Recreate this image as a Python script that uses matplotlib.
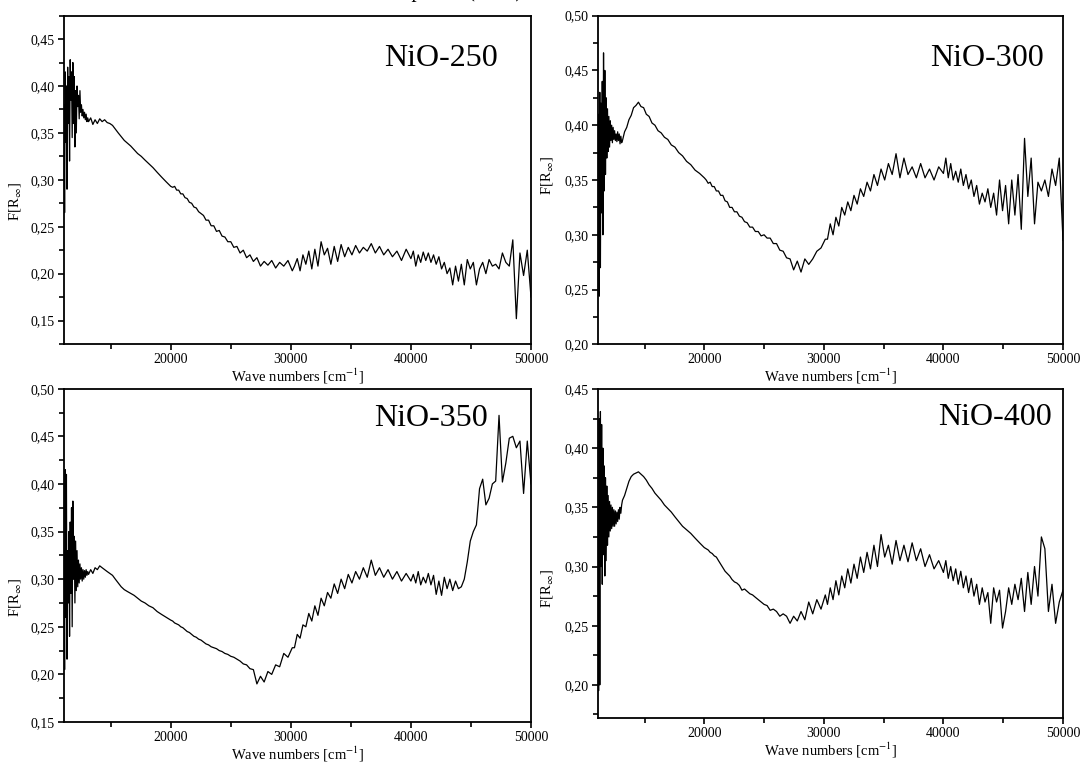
import numpy as np
import matplotlib
matplotlib.use('Agg')
import matplotlib.pyplot as plt
from matplotlib.ticker import MultipleLocator, FuncFormatter

plt.rcParams['font.family'] = ['Liberation Serif', 'DejaVu Serif']
plt.rcParams['mathtext.fontset'] = 'stix'

# F(R) values, in wavelength order (200 nm -> 900 nm)
# segments: a1 200-250 nm, a2 252.5-330 nm, b 332-496 nm, c 500-760 nm, d 764-900 nm
nio250_a1 = [0.175, 0.225, 0.198, 0.222, 0.152, 0.236, 0.208, 0.212, 0.222, 0.205, 0.210, 0.208, 0.215, 0.200,
             0.212, 0.205, 0.188, 0.212, 0.205, 0.215, 0.188, 0.210, 0.192, 0.208, 0.188, 0.206, 0.200, 0.212,
             0.205, 0.218, 0.210, 0.220, 0.212, 0.222, 0.214, 0.223, 0.212, 0.220, 0.208, 0.224, 0.216]
nio250_a2 = [0.226, 0.214, 0.224, 0.218, 0.226, 0.220, 0.229, 0.222, 0.232, 0.224, 0.228, 0.222, 0.230, 0.220,
             0.228, 0.218, 0.231, 0.213, 0.229, 0.210, 0.227, 0.220, 0.234, 0.208, 0.226, 0.205, 0.224, 0.210,
             0.220, 0.203, 0.216, 0.208]
nio250_b = [0.203, 0.214, 0.208, 0.212, 0.206, 0.214, 0.209, 0.213, 0.208, 0.217, 0.213, 0.220, 0.217, 0.225,
            0.222, 0.229, 0.228, 0.234, 0.234, 0.239, 0.240, 0.246, 0.245, 0.251, 0.251, 0.257, 0.257, 0.262,
            0.264, 0.266, 0.270, 0.271, 0.275, 0.276, 0.280, 0.281, 0.285, 0.285, 0.289, 0.289, 0.293, 0.292]
nio250_c = [0.293, 0.298, 0.303, 0.308, 0.313, 0.317, 0.321, 0.325, 0.328, 0.332, 0.336, 0.339, 0.342, 0.346,
            0.350, 0.354, 0.358, 0.360, 0.361, 0.364, 0.362, 0.365, 0.360, 0.364, 0.359, 0.366, 0.362]
nio250_d = [0.366, 0.362, 0.370, 0.364, 0.372, 0.366, 0.375, 0.368, 0.380, 0.372, 0.395, 0.365, 0.390, 0.378,
            0.400, 0.350, 0.395, 0.335, 0.410, 0.360, 0.425, 0.345, 0.415, 0.385, 0.428, 0.320, 0.410, 0.360,
            0.420, 0.290, 0.400, 0.340, 0.415, 0.265, 0.380]

nio300_a1 = [0.295, 0.370, 0.345, 0.360, 0.335, 0.350, 0.340, 0.348, 0.310, 0.370, 0.335, 0.388, 0.305, 0.355,
             0.318, 0.350, 0.310, 0.345, 0.322, 0.350, 0.318, 0.338, 0.325, 0.342, 0.330, 0.338, 0.328, 0.345,
             0.335, 0.350, 0.342, 0.355, 0.345, 0.360, 0.348, 0.358, 0.350, 0.365, 0.352, 0.370, 0.356]
nio300_a2 = [0.362, 0.350, 0.360, 0.352, 0.365, 0.352, 0.362, 0.355, 0.370, 0.352, 0.374, 0.355, 0.365, 0.350,
             0.360, 0.345, 0.355, 0.340, 0.348, 0.335, 0.342, 0.328, 0.336, 0.322, 0.330, 0.318, 0.325, 0.308,
             0.316, 0.300, 0.310, 0.296]
nio300_b = [0.296, 0.288, 0.285, 0.278, 0.273, 0.278, 0.266, 0.276, 0.268, 0.278, 0.279, 0.285, 0.286, 0.292,
            0.292, 0.297, 0.297, 0.300, 0.299, 0.303, 0.303, 0.307, 0.307, 0.311, 0.312, 0.316, 0.317, 0.321,
            0.321, 0.325, 0.325, 0.330, 0.331, 0.336, 0.336, 0.340, 0.340, 0.344, 0.344, 0.348, 0.347, 0.350]
nio300_c = [0.352, 0.356, 0.359, 0.364, 0.367, 0.372, 0.375, 0.380, 0.382, 0.387, 0.389, 0.393, 0.395, 0.400,
            0.402, 0.408, 0.410, 0.416, 0.417, 0.421, 0.418, 0.416, 0.409, 0.405, 0.398, 0.394, 0.386]
nio300_d = [0.384, 0.390, 0.383, 0.392, 0.386, 0.394, 0.385, 0.392, 0.386, 0.395, 0.387, 0.398, 0.384, 0.400,
            0.386, 0.404, 0.380, 0.408, 0.376, 0.415, 0.370, 0.425, 0.355, 0.450, 0.340, 0.466, 0.300, 0.440,
            0.320, 0.420, 0.270, 0.430, 0.244, 0.410, 0.360]

nio350_a1 = [0.400, 0.445, 0.390, 0.445, 0.438, 0.450, 0.448, 0.422, 0.402, 0.472, 0.403, 0.400, 0.385, 0.378,
             0.405, 0.395, 0.357, 0.350, 0.340, 0.318, 0.300, 0.292, 0.290, 0.298, 0.288, 0.300, 0.290, 0.302,
             0.283, 0.298, 0.284, 0.304, 0.294, 0.306, 0.296, 0.302, 0.294, 0.308, 0.296, 0.305, 0.298]
nio350_a2 = [0.306, 0.298, 0.308, 0.300, 0.310, 0.302, 0.312, 0.304, 0.320, 0.302, 0.312, 0.300, 0.308, 0.296,
             0.305, 0.290, 0.300, 0.285, 0.295, 0.280, 0.286, 0.272, 0.280, 0.262, 0.272, 0.256, 0.264, 0.250,
             0.252, 0.238, 0.242, 0.228]
nio350_b = [0.228, 0.218, 0.222, 0.208, 0.210, 0.200, 0.203, 0.192, 0.198, 0.190, 0.205, 0.206, 0.210, 0.211,
            0.214, 0.216, 0.218, 0.219, 0.221, 0.222, 0.224, 0.225, 0.227, 0.228, 0.229, 0.231, 0.232, 0.234,
            0.236, 0.237, 0.239, 0.240, 0.242, 0.244, 0.245, 0.247, 0.249, 0.250, 0.252, 0.253, 0.254, 0.256]
nio350_c = [0.257, 0.260, 0.263, 0.266, 0.270, 0.272, 0.275, 0.277, 0.280, 0.283, 0.285, 0.287, 0.289, 0.292,
            0.296, 0.300, 0.304, 0.306, 0.308, 0.310, 0.312, 0.314, 0.310, 0.312, 0.306, 0.310, 0.305]
nio350_d = [0.308, 0.304, 0.310, 0.302, 0.309, 0.300, 0.310, 0.298, 0.312, 0.300, 0.316, 0.296, 0.320, 0.292,
            0.330, 0.288, 0.340, 0.275, 0.345, 0.300, 0.382, 0.250, 0.375, 0.285, 0.360, 0.240, 0.350, 0.275,
            0.330, 0.216, 0.410, 0.260, 0.415, 0.205, 0.330]

nio400_a1 = [0.280, 0.270, 0.252, 0.285, 0.262, 0.315, 0.325, 0.275, 0.300, 0.268, 0.295, 0.262, 0.290, 0.272,
             0.285, 0.268, 0.282, 0.262, 0.248, 0.280, 0.270, 0.282, 0.252, 0.278, 0.270, 0.282, 0.268, 0.285,
             0.275, 0.290, 0.278, 0.292, 0.282, 0.296, 0.285, 0.298, 0.288, 0.300, 0.290, 0.305, 0.295]
nio400_a2 = [0.305, 0.298, 0.310, 0.300, 0.315, 0.305, 0.320, 0.304, 0.318, 0.305, 0.322, 0.302, 0.318, 0.308,
             0.327, 0.300, 0.318, 0.298, 0.312, 0.295, 0.308, 0.290, 0.302, 0.286, 0.298, 0.282, 0.292, 0.276,
             0.288, 0.272, 0.282, 0.268]
nio400_b = [0.276, 0.264, 0.272, 0.260, 0.270, 0.255, 0.262, 0.254, 0.258, 0.252, 0.258, 0.260, 0.258, 0.262,
            0.264, 0.263, 0.267, 0.268, 0.270, 0.272, 0.274, 0.276, 0.277, 0.279, 0.281, 0.280, 0.284, 0.286,
            0.287, 0.289, 0.292, 0.294, 0.296, 0.299, 0.302, 0.305, 0.308, 0.309, 0.311, 0.312, 0.314, 0.315]
nio400_c = [0.316, 0.320, 0.324, 0.328, 0.331, 0.334, 0.338, 0.342, 0.346, 0.349, 0.352, 0.356, 0.359, 0.362,
            0.366, 0.369, 0.373, 0.376, 0.378, 0.380, 0.379, 0.378, 0.376, 0.372, 0.366, 0.360, 0.356]
nio400_d = [0.352, 0.345, 0.350, 0.340, 0.348, 0.338, 0.346, 0.336, 0.347, 0.334, 0.348, 0.334, 0.350, 0.332,
            0.352, 0.330, 0.355, 0.325, 0.360, 0.318, 0.368, 0.305, 0.375, 0.292, 0.385, 0.310, 0.400, 0.285,
            0.420, 0.300, 0.431, 0.200, 0.425, 0.195, 0.330]

samples = ['NiO-250', 'NiO-300', 'NiO-350', 'NiO-400']
series = [
    (nio250_a1, nio250_a2, nio250_b, nio250_c, nio250_d),
    (nio300_a1, nio300_a2, nio300_b, nio300_c, nio300_d),
    (nio350_a1, nio350_a2, nio350_b, nio350_c, nio350_d),
    (nio400_a1, nio400_a2, nio400_b, nio400_c, nio400_d),
]
ylims = [(0.125, 0.475), (0.20, 0.50), (0.15, 0.50), (0.172, 0.45)]


def spectrum(a1, a2, b, c, d):
    # measured on a wavelength grid (nm), plotted as wave numbers (cm-1)
    wl = np.concatenate([np.linspace(200, 250, len(a1)), np.linspace(252.5, 330, len(a2)),
                         np.linspace(332, 496, len(b)), np.linspace(500, 760, len(c)),
                         np.linspace(764, 900, len(d))])
    return 1e7 / wl, np.concatenate([a1, a2, b, c, d])


W, H = 1088, 763
fig = plt.figure(figsize=(W / 100, H / 100), dpi=100)

# axes boxes in pixels: left, right, top, bottom
boxes = [(64, 531, 15.6, 344), (598, 1063, 15.6, 344.4), (64, 531, 388.7, 722), (598, 1063, 389, 718)]
label_xy = [(0.929, 0.847), (0.959, 0.847), (0.908, 0.889), (0.976, 0.891)]
ylabel_xy = [(-0.088, 0.435), (-0.092, 0.515), (-0.088, 0.372), (-0.092, 0.393)]

fmt_y = FuncFormatter(lambda v, p: f'{v:.2f}'.replace('.', ','))
fmt_x = FuncFormatter(lambda v, p: f'{v:.0f}')

for i in range(4):
    l, r, t, b = boxes[i]
    ax = fig.add_axes([l / W, 1 - b / H, (r - l) / W, (b - t) / H])
    x, y = spectrum(*series[i])
    ax.plot(x, y, color='black', lw=0.9)
    ax.set_xlim(11111, 50000)
    ax.set_ylim(*ylims[i])
    ax.xaxis.set_major_locator(MultipleLocator(10000))
    ax.xaxis.set_minor_locator(MultipleLocator(5000))
    ax.yaxis.set_major_locator(MultipleLocator(0.05))
    ax.yaxis.set_minor_locator(MultipleLocator(0.025))
    ax.xaxis.set_major_formatter(fmt_x)
    ax.yaxis.set_major_formatter(fmt_y)
    ax.tick_params(which='both', direction='out', width=1.2, labelsize=10)
    ax.tick_params(which='major', length=4.5)
    ax.tick_params(which='minor', length=3.5)
    ax.tick_params(axis='x', pad=2)
    ax.tick_params(axis='y', pad=2.5)
    for s in ax.spines.values():
        s.set_linewidth(1.3)
    ax.set_xlabel('Wave numbers [cm$^{-1}$]', fontsize=10.5, labelpad=0.5)
    ax.set_ylabel('F[R$_{\\infty}$]', fontsize=10.5)
    ax.yaxis.set_label_coords(*ylabel_xy[i])
    ax.text(label_xy[i][0], label_xy[i][1], samples[i], transform=ax.transAxes,
            ha='right', va='baseline', fontsize=23)

# title of the original figure, cut off at the top edge
fig.text(522 / W, 1 + 2.5 / H, 'UV-Vis spectra (DRS)', ha='right', va='baseline', fontsize=15)

fig.savefig('out.png', dpi=100)
